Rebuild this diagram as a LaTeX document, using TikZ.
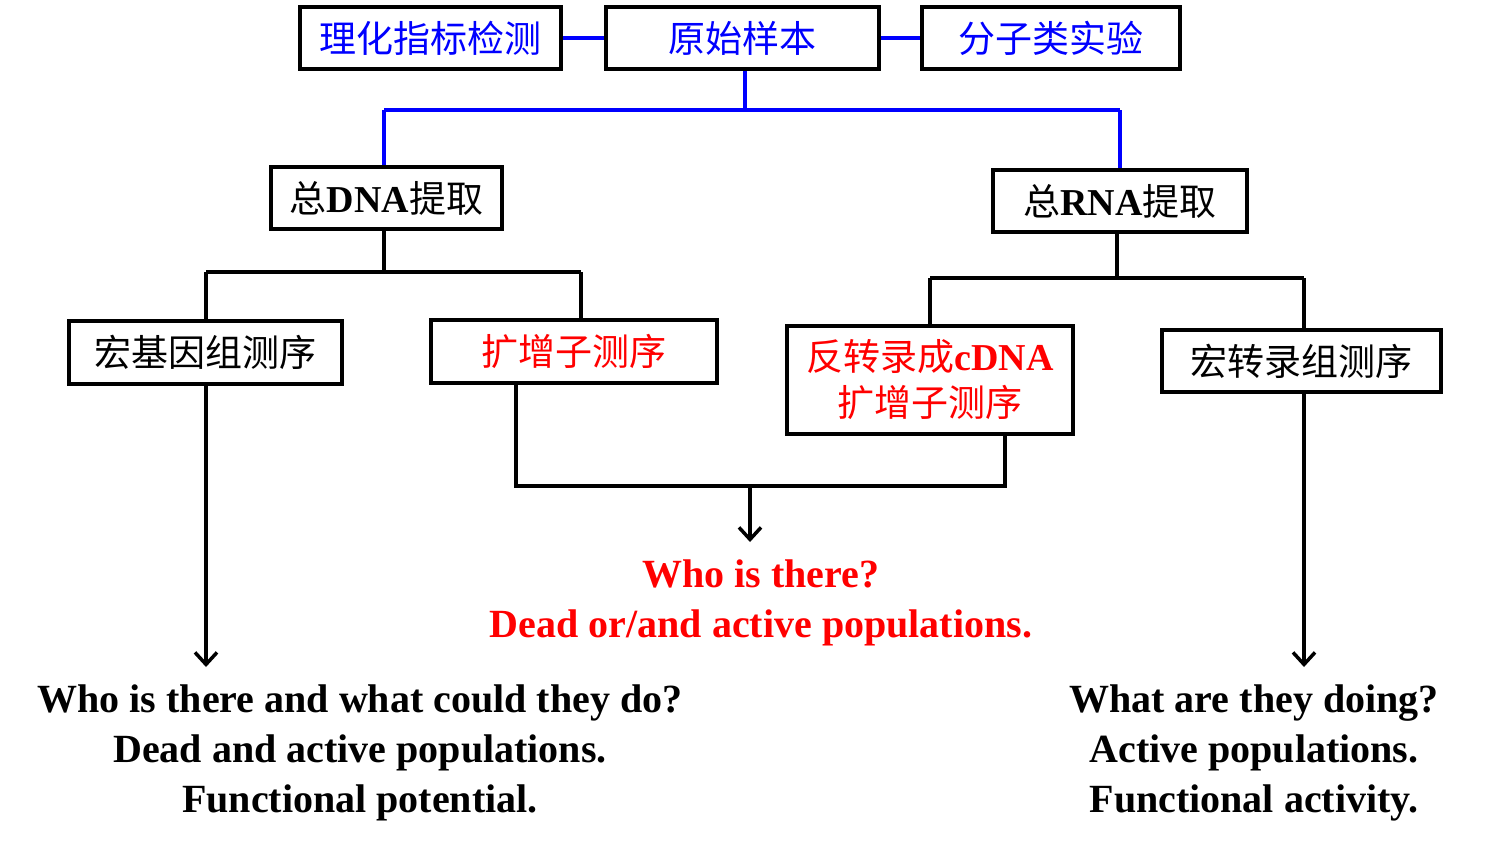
\documentclass[tikz,border=0pt]{standalone}
\usepackage{fontspec}
\setmainfont{Liberation Serif}
\newfontfamily\cjk{Noto Sans CJK SC}
\usetikzlibrary{arrows.meta}
\newcommand{\lat}[1]{{\rmfamily\bfseries\fontsize{38}{44}\selectfont #1}}
\begin{document}
\begin{tikzpicture}[x=1pt,y=-1pt,
 box/.style={draw=black,line width=3.5pt,inner sep=0pt,font=\cjk\fontsize{37}{46}\selectfont},
 bl/.style={draw=blue,line width=3.5pt},
 bk/.style={draw=black,line width=3.5pt},
 arr/.style={bk,-{Straight Barb[length=12pt,width=22pt,line width=3.5pt]}},
 txt/.style={font=\bfseries\fontsize{40}{50}\selectfont,align=center}]
\useasboundingbox (0,0) rectangle (1511,852);
\node[box,minimum width=261pt,minimum height=62pt,text=blue] (lh) at (430.5,38) {理化指标检测};
\node[box,minimum width=273pt,minimum height=62pt,text=blue] (ys) at (742.5,38) {原始样本};
\node[box,minimum width=258pt,minimum height=62pt,text=blue] (fz) at (1051,38) {分子类实验};
\node[box,minimum width=231pt,minimum height=62pt] (dna) at (386.5,198) {总\lat{DNA}提取};
\node[box,minimum width=254pt,minimum height=62pt] (rna) at (1120,201) {总\lat{RNA}提取};
\node[box,minimum width=273pt,minimum height=63pt] (mg) at (205.5,352.5) {宏基因组测序};
\node[box,minimum width=286pt,minimum height=63pt,text=red] (amp) at (574,351.5) {扩增子测序};
\node[box,minimum width=286pt,minimum height=108pt,text=red,align=center] (cd) at (930,380) {反转录成\lat{cDNA}\\扩增子测序};
\node[box,minimum width=279pt,minimum height=62pt] (mt) at (1301.5,361) {宏转录组测序};
\draw[bl] (lh.east) -- (ys.west);
\draw[bl] (ys.east) -- (fz.west);
\coordinate (b1) at (745,110);
\draw[bl] (ys.south -| b1) -- (b1);
\draw[bl] (384,110) -- (1120,110);
\draw[bl] (384,110) -- (dna.north -| 384,0);
\draw[bl] (1120,110) -- (rna.north);
\draw[bk] (dna.south -| 384,0) -- (384,272);
\draw[bk] (206,272) -- (581,272);
\draw[bk] (206,272) -- (mg.north -| 206,0);
\draw[bk] (581,272) -- (amp.north -| 581,0);
\draw[bk] (rna.south -| 1117,0) -- (1117,278);
\draw[bk] (930,278) -- (1304,278);
\draw[bk] (930,278) -- (cd.north);
\draw[bk] (1304,278) -- (mt.north -| 1304,0);
\draw[bk] (amp.south -| 516,0) -- (516,486) -- (1005,486) -- (cd.south -| 1005,0);
\node[txt,text=red] (who) at (761,603) {Who is there?\\Dead or/and active populations.};
\node[txt] (lt) at (360,753) {Who is there and what could they do?\\Dead and active populations.\\Functional potential.};
\node[txt] (rt) at (1254,753) {What are they doing?\\Active populations.\\Functional activity.};
\draw[arr] (750,486) -- (750,542);
\draw[arr] (mg.south -| 206,0) -- (206,667);
\draw[arr] (mt.south -| 1304,0) -- (1304,667);
\end{tikzpicture}
\end{document}
